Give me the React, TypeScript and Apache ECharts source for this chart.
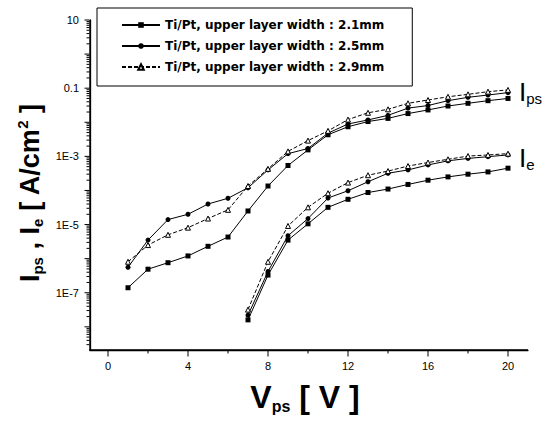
import React, { useEffect, useRef } from "react";
import * as echarts from "echarts";

// ---------- data ----------
const seriesNames = [
  "Ti/Pt, upper layer width : 2.1mm",
  "Ti/Pt, upper layer width : 2.5mm",
  "Ti/Pt, upper layer width : 2.9mm",
];

const voltsIps = [1, 2, 3, 4, 5, 6, 7, 8, 9, 10, 11, 12, 13, 14, 15, 16, 17, 18, 19, 20];
const voltsIe = [7, 8, 9, 10, 11, 12, 13, 14, 15, 16, 17, 18, 19, 20];

const ipsW21 = [1.4e-7, 4.9e-7, 7.6e-7, 1.2e-6, 2.3e-6, 4.3e-6, 2.5e-5, 1.35e-4, 5.4e-4, 1.55e-3, 4.3e-3, 7.4e-3, 1.05e-2, 1.3e-2, 1.8e-2, 2.3e-2, 3.0e-2, 3.6e-2, 4.3e-2, 5.0e-2];
const ipsW25 = [5.6e-7, 3.5e-6, 1.4e-5, 2.0e-5, 4.0e-5, 5.9e-5, 1.2e-4, 4.0e-4, 1.2e-3, 1.7e-3, 4.8e-3, 8.9e-3, 1.17e-2, 1.6e-2, 2.6e-2, 3.1e-2, 4.3e-2, 5.4e-2, 6.3e-2, 7.4e-2];
const ipsW29 = [8.1e-7, 2.5e-6, 5.0e-6, 8.1e-6, 1.5e-5, 2.7e-5, 1.35e-4, 4.3e-4, 1.4e-3, 2.9e-3, 5.6e-3, 1.2e-2, 1.9e-2, 2.4e-2, 3.6e-2, 4.5e-2, 5.6e-2, 6.6e-2, 7.9e-2, 8.9e-2];

const ieW21 = [1.6e-8, 3.3e-7, 3.5e-6, 1.05e-5, 3.2e-5, 5.5e-5, 8.7e-5, 1.1e-4, 1.5e-4, 2.0e-4, 2.5e-4, 3.0e-4, 3.5e-4, 4.5e-4];
const ieW25 = [2.2e-8, 4.2e-7, 4.7e-6, 1.5e-5, 6.0e-5, 9.8e-5, 1.8e-4, 3.2e-4, 4.0e-4, 5.6e-4, 7.4e-4, 8.7e-4, 9.8e-4, 1.1e-3];
const ieW29 = [3.2e-8, 8.1e-7, 9.1e-6, 3.2e-5, 8.3e-5, 1.7e-4, 2.8e-4, 3.7e-4, 5.2e-4, 6.6e-4, 8.2e-4, 1.02e-3, 1.1e-3, 1.2e-3];

// y tick labels (decade exponents that carry a label) and texts
const yLabelExponents = [1, -1, -3, -5, -7];
const yLabelTexts = ["10", "0.1", "1E-3", "1E-5", "1E-7"];
const yMajorExponents = [-8, -7, -6, -5, -4, -3, -2, -1, 0, 1];
const yMinorMultipliers = [2, 3, 4, 5, 6, 7, 8, 9];

const xLabelValues = [0, 4, 8, 12, 16, 20];
const xMinorValues = [2, 6, 10, 14, 18];

// axis extents (y in decades, i.e. log10 of A/cm^2)
const X_MIN = -0.9;
const X_MAX = 21;
const Y_MIN_DEC = -8.68;
const Y_MAX_DEC = 1;

// ---------- helpers ----------
const FONT = "Liberation Sans, Arial, sans-serif";
const LEGEND_FONT = "DejaVu Sans, Liberation Sans, sans-serif";
const pairs = (xs: number[], ys: number[]) => xs.map((x, i) => [x, Math.log10(ys[i])]);
const yMinorTicks: number[] = [];
for (const e of yMajorExponents) {
  for (const m of yMinorMultipliers) {
    const d = Math.log10(m) + e - 1;
    if (d > Y_MIN_DEC && d < Y_MAX_DEC) yMinorTicks.push(d);
  }
}

const styles = [
  { symbol: "rect", symbolSize: 5, itemStyle: { color: "#000" }, lineStyle: { color: "#000", width: 1 } },
  { symbol: "circle", symbolSize: 5, itemStyle: { color: "#000" }, lineStyle: { color: "#000", width: 1 } },
  {
    symbol: "triangle",
    symbolSize: 5,
    itemStyle: { color: "#fff", borderColor: "#000", borderWidth: 1 },
    lineStyle: { color: "#000", width: 1, type: [4, 2] },
  },
];

const ipsData = [ipsW21, ipsW25, ipsW29];
const ieData = [ieW21, ieW25, ieW29];

const buildSeries = () => {
  const out: any[] = [];
  for (let i = 0; i < 3; i++) {
    out.push({ type: "line", name: seriesNames[i], data: pairs(voltsIps, ipsData[i]), showSymbol: true, ...styles[i] });
    out.push({ type: "line", name: seriesNames[i], data: pairs(voltsIe, ieData[i]), showSymbol: true, ...styles[i] });
  }
  return out;
};

const yFormatter = (d: number) => {
  for (let i = 0; i < yLabelExponents.length; i++) {
    if (Math.abs(d - yLabelExponents[i]) < 0.01) return yLabelTexts[i];
  }
  return "";
};

const textGraphics: any[] = [
  {
    id: "ytitle",
    type: "text",
    x: 30,
    y: 193,
    rotation: Math.PI / 2,
    style: {
      text: "{b|I}{s|ps}{b| , I}{s|e}{b| [ A/cm}{p|2}{b| ]}",
      align: "center",
      verticalAlign: "middle",
      fill: "#000",
      rich: {
        b: { fontFamily: FONT, fontWeight: "bold", fontSize: 27, lineHeight: 30, fill: "#000" },
        s: { fontFamily: FONT, fontWeight: "bold", fontSize: 15, lineHeight: 14, verticalAlign: "bottom", fill: "#000" },
        p: { fontFamily: FONT, fontWeight: "bold", fontSize: 15, lineHeight: 14, verticalAlign: "top", fill: "#000" },
      },
    },
  },
  {
    id: "xtitle",
    type: "text",
    x: 305,
    y: 397,
    style: {
      text: "{b|V}{s|ps}{b| [ V ]}",
      align: "center",
      verticalAlign: "middle",
      fill: "#000",
      rich: {
        b: { fontFamily: FONT, fontWeight: "bold", fontSize: 32, lineHeight: 34, fill: "#000" },
        s: { fontFamily: FONT, fontWeight: "bold", fontSize: 16, lineHeight: 15, verticalAlign: "bottom", fill: "#000" },
      },
    },
  },
  {
    id: "ipsLabel",
    type: "text",
    x: 519,
    y: 92,
    style: {
      text: "{b|I}{s|ps}",
      align: "left",
      verticalAlign: "middle",
      fill: "#000",
      rich: {
        b: { fontFamily: FONT, fontSize: 26, lineHeight: 28, fill: "#000" },
        s: { fontFamily: FONT, fontSize: 15, lineHeight: 13, verticalAlign: "bottom", fill: "#000" },
      },
    },
  },
  {
    id: "ieLabel",
    type: "text",
    x: 519,
    y: 158,
    style: {
      text: "{b|I}{s|e}",
      align: "left",
      verticalAlign: "middle",
      fill: "#000",
      rich: {
        b: { fontFamily: FONT, fontSize: 26, lineHeight: 28, fill: "#000" },
        s: { fontFamily: FONT, fontSize: 15, lineHeight: 13, verticalAlign: "bottom", fill: "#000" },
      },
    },
  },
];

export default function App() {
  const ref = useRef<HTMLDivElement>(null);
  useEffect(() => {
    document.body.style.margin = "0";
    const chart = echarts.init(ref.current!, null, { renderer: "svg" });
    const option: any = {
      animation: false,
      backgroundColor: "#fff",
      grid: { left: 90, right: 22, top: 20, bottom: 71 },
      legend: {
        data: seriesNames,
        orient: "vertical",
        left: 97,
        top: 8,
        itemWidth: 38,
        itemHeight: 7,
        itemGap: 9,
        padding: [11, 28, 13, 24],
        borderColor: "#000",
        borderWidth: 1,
        borderRadius: 0,
        backgroundColor: "#fff",
        selectedMode: false,
        textStyle: { fontFamily: LEGEND_FONT, fontWeight: "bold", fontSize: 12, color: "#000" },
      },
      xAxis: {
        type: "value",
        min: X_MIN,
        max: X_MAX,
        axisLine: { show: true, onZero: false, lineStyle: { color: "#000", width: 1.3 } },
        axisTick: { show: false },
        axisLabel: { customValues: xLabelValues, fontFamily: FONT, fontSize: 11, color: "#000", margin: 10 },
        splitLine: { show: false },
      },
      yAxis: {
        type: "value",
        min: Y_MIN_DEC,
        max: Y_MAX_DEC,
        axisLine: { show: true, onZero: false, lineStyle: { color: "#000", width: 1.3 } },
        axisTick: { show: false },
        axisLabel: {
          customValues: yLabelExponents,
          formatter: yFormatter,
          fontFamily: FONT,
          fontSize: 11,
          color: "#000",
          margin: 11,
        },
        splitLine: { show: false },
      },
      series: buildSeries(),
      graphic: textGraphics,
    };
    chart.setOption(option);

    // axis lines and ticks as filled rects, placed through the grid's own scales
    const px = (x: number, y: number) => chart.convertToPixel({ gridIndex: 0 }, [x, y]) as number[];
    const marks: any[] = [];
    let n = 0;
    const rect = (x: number, y: number, w: number, h: number) =>
      marks.push({ id: "mark" + n++, type: "rect", z: 100, shape: { x, y, width: w, height: h }, style: { fill: "#000" } });
    const top = px(X_MIN, Y_MAX_DEC);
    const corner = px(X_MIN, Y_MIN_DEC);
    const right = px(X_MAX, Y_MIN_DEC);
    rect(corner[0] - 0.7, top[1], 1.4, corner[1] - top[1] + 0.7);
    rect(corner[0] - 0.7, corner[1] - 0.7, right[0] - corner[0] + 0.7, 1.4);
    for (const e of yMajorExponents) {
      const p = px(X_MIN, e);
      rect(p[0] - 5.5, p[1] - 0.5, 5, 1);
    }
    for (const d of yMinorTicks) {
      const p = px(X_MIN, d);
      rect(p[0] - 3.5, p[1] - 0.5, 3, 1);
    }
    for (const v of xLabelValues) {
      const p = px(v, Y_MIN_DEC);
      rect(p[0] - 0.5, p[1] + 0.5, 1, 6);
    }
    for (const v of xMinorValues) {
      const p = px(v, Y_MIN_DEC);
      rect(p[0] - 0.5, p[1] + 0.5, 1, 3);
    }
    chart.setOption({ graphic: [...textGraphics, ...marks] });

    return () => chart.dispose();
  }, []);
  return <div ref={ref} style={{ width: 550, height: 421 }} />;
}
